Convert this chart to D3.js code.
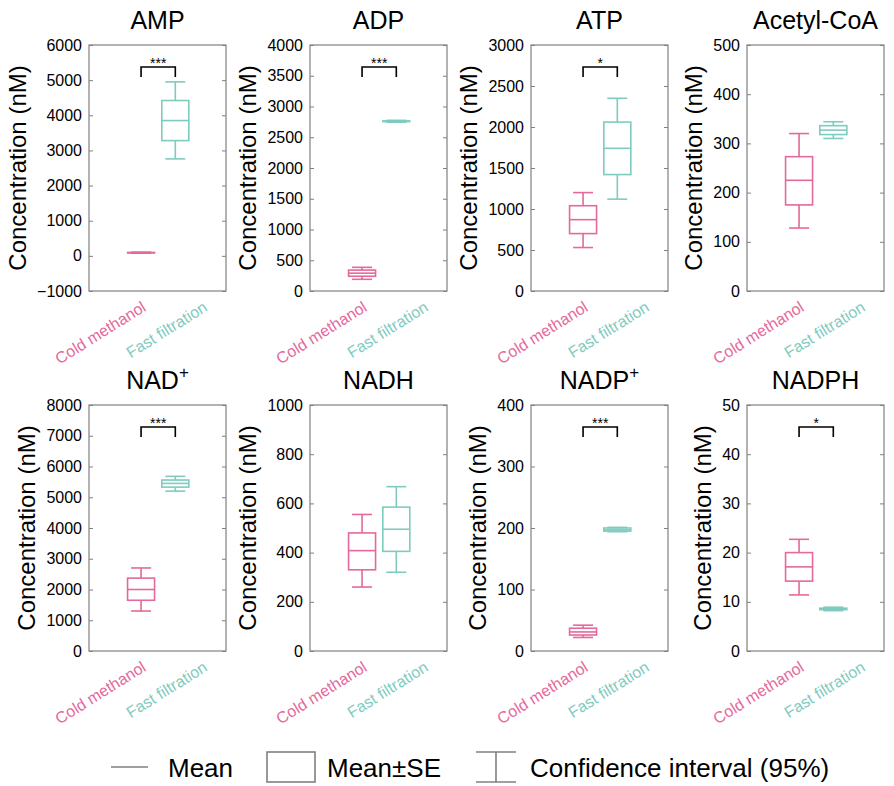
<!DOCTYPE html>
<meta charset="utf-8">
<html>
  <head>
    <script src="https://d3js.org/d3.v7.min.js"></script>
    <style>
      body { margin: 0; background: #fff; }
      text { font-family: "Liberation Sans", Arial, sans-serif; }
    </style>
  </head>
  <body>
    <script>
      // chart data
      var groups = ["Cold methanol", "Fast filtration"];
      var metabolites = ["AMP", "ADP", "ATP", "Acetyl-CoA", "NAD", "NADH", "NADP", "NADPH"];
      var superPlus = [false, false, false, false, true, false, true, false];
      var yMin = [-1000, 0, 0, 0, 0, 0, 0, 0];
      var yMax = [6000, 4000, 3000, 500, 8000, 1000, 400, 50];
      var yStep = [1000, 500, 500, 100, 1000, 200, 100, 10];
      var stars = ["***", "***", "*", "", "***", "", "***", "*"];

      // per metabolite: [cold, fast]
      var meanVals = [[90, 3850], [290, 2760], [870, 1740], [225, 327], [2000, 5450], [408, 495], [31, 197], [17.1, 8.55]];
      var seLow    = [[85, 3280], [240, 2755], [700, 1420], [175, 318], [1650, 5330], [330, 405], [26, 195], [14.2, 8.4]];
      var seHigh   = [[95, 4420], [340, 2765], [1040, 2060], [273, 336], [2370, 5560], [480, 585], [37, 200], [20.0, 8.7]];
      var ciLow    = [[75, 2760], [190, 2745], [530, 1120], [128, 310], [1300, 5200], [260, 320], [22, 194], [11.4, 8.2]];
      var ciHigh   = [[105, 4950], [385, 2775], [1200, 2350], [320, 344], [2700, 5680], [555, 668], [42, 201], [22.7, 8.9]];

      var colors = ["#e4699c", "#7fcbbf"];
      var gray = "#808080";

      var W = 894, H = 786;
      var colLeft = [89, 310, 531, 747];
      var rowTop = [45, 405];
      var pw = 137, ph = 246;

      var svg = d3.select("body").append("svg")
        .attr("width", W).attr("height", H);

      metabolites.forEach(function(name, i) {
        var left = colLeft[i % 4], top = rowTop[Math.floor(i / 4)];
        var g = svg.append("g").attr("transform", "translate(" + left + "," + top + ")");

        var y = d3.scaleLinear().domain([yMin[i], yMax[i]]).range([ph, 0]);
        var x = d3.scalePoint().domain(groups).range([pw * 0.38, pw * 0.63]);
        var ticks = d3.range(yMin[i], yMax[i] + yStep[i] / 2, yStep[i]);

        // left axis, ticks inward
        var yAxis = g.append("g").call(d3.axisLeft(y).tickValues(ticks).tickSize(-4).tickPadding(7).tickFormat(d3.format("d")));
        yAxis.select(".domain").remove();
        yAxis.selectAll("line").attr("stroke", gray);
        yAxis.selectAll("text").attr("font-size", 16).attr("fill", "#000")
          .attr("font-family", "'Liberation Sans', Arial, sans-serif");
        // right ticks
        var yAxisR = g.append("g").attr("transform", "translate(" + pw + ",0)")
          .call(d3.axisRight(y).tickValues(ticks).tickSize(-4).tickFormat(""));
        yAxisR.select(".domain").remove();
        yAxisR.selectAll("line").attr("stroke", gray);

        g.append("rect").attr("width", pw).attr("height", ph)
          .attr("fill", "none").attr("stroke", gray).attr("stroke-width", 1.2);

        var maxW = 0;
        yAxis.selectAll("text").each(function() { maxW = Math.max(maxW, this.getComputedTextLength()); });

        // y label
        g.append("text")
          .attr("transform", "translate(" + (-maxW - 18) + "," + (ph / 2) + ") rotate(-90)")
          .attr("text-anchor", "middle").attr("font-size", 24)
          .text("Concentration (nM)");

        // title
        var t = g.append("text").attr("x", pw / 2).attr("y", -16)
          .attr("text-anchor", "middle").attr("font-size", 25).text(name);
        if (superPlus[i]) {
          t.append("tspan").attr("dy", -11).attr("font-size", 17).text("+");
        }

        // boxes
        groups.forEach(function(grp, j) {
          var cx = x(grp), bw = 27, cw = 20;
          var c = colors[j];
          var bg = g.append("g").attr("stroke", c).attr("stroke-width", 1.6).attr("fill", "none");
          bg.append("line").attr("x1", cx).attr("x2", cx).attr("y1", y(ciHigh[i][j])).attr("y2", y(seHigh[i][j]));
          bg.append("line").attr("x1", cx).attr("x2", cx).attr("y1", y(seLow[i][j])).attr("y2", y(ciLow[i][j]));
          bg.append("line").attr("x1", cx - cw / 2).attr("x2", cx + cw / 2).attr("y1", y(ciHigh[i][j])).attr("y2", y(ciHigh[i][j]));
          bg.append("line").attr("x1", cx - cw / 2).attr("x2", cx + cw / 2).attr("y1", y(ciLow[i][j])).attr("y2", y(ciLow[i][j]));
          bg.append("rect").attr("x", cx - bw / 2).attr("width", bw)
            .attr("y", y(seHigh[i][j])).attr("height", y(seLow[i][j]) - y(seHigh[i][j]));
          bg.append("line").attr("x1", cx - bw / 2).attr("x2", cx + bw / 2).attr("y1", y(meanVals[i][j])).attr("y2", y(meanVals[i][j]));

          // rotated category label
          var lx = cx + (j === 0 ? 6 : 33);
          g.append("text")
            .attr("transform", "translate(" + lx + "," + (ph + 19) + ") rotate(-32)")
            .attr("text-anchor", "end").attr("font-size", 16).attr("fill", c)
            .text(grp);
        });

        // significance bracket
        if (stars[i]) {
          var x0 = x(groups[0]), x1 = x(groups[1]), by = 22;
          g.append("path")
            .attr("d", "M" + x0 + "," + (by + 10) + "V" + by + "H" + x1 + "V" + (by + 10))
            .attr("fill", "none").attr("stroke", "#000").attr("stroke-width", 1.6);
          g.append("text").attr("x", (x0 + x1) / 2).attr("y", by + 1)
            .attr("text-anchor", "middle").attr("font-size", 14).text(stars[i]);
        }
      });

      // legend
      var lg = svg.append("g").attr("stroke", gray).attr("stroke-width", 1.6).attr("fill", "none");
      lg.append("line").attr("x1", 111).attr("x2", 148).attr("y1", 767).attr("y2", 767);
      lg.append("rect").attr("x", 267).attr("y", 752).attr("width", 48).attr("height", 30);
      lg.append("line").attr("x1", 476).attr("x2", 516).attr("y1", 752).attr("y2", 752);
      lg.append("line").attr("x1", 476).attr("x2", 516).attr("y1", 782).attr("y2", 782);
      lg.append("line").attr("x1", 496).attr("x2", 496).attr("y1", 752).attr("y2", 782);
      [["Mean", 168], ["Mean\u00b1SE", 327], ["Confidence interval (95%)", 530]].forEach(function(d) {
        svg.append("text").attr("x", d[1]).attr("y", 777).attr("font-size", 26).text(d[0]);
      });
    </script>
  </body>
</html>
